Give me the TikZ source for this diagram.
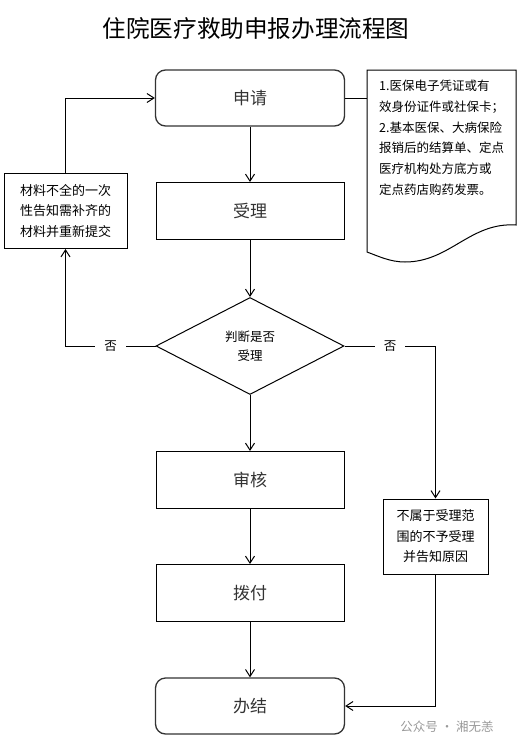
\documentclass[tikz,border=0pt]{standalone}
\usepackage{fontspec}
\setmainfont{Noto Sans CJK SC}
\usetikzlibrary{shapes.geometric, arrows.meta}
\tikzstyle{startstop} = [rectangle, rounded corners=10pt, minimum width=189pt, minimum height=56pt, text centered, draw=black!80, line width=1.3pt, text=black!80, font=\fontsize{17}{20}\selectfont]
\tikzstyle{process} = [rectangle, minimum width=188pt, minimum height=57pt, text centered, draw=black, line width=1pt, text=black!80, font=\fontsize{17}{20}\selectfont]
\tikzstyle{decision} = [diamond, aspect=1.94, minimum width=188pt, minimum height=97pt, inner sep=0pt, align=center, draw=black, line width=1pt, font=\fontsize{12.5}{19}\selectfont]
\tikzstyle{note} = [rectangle, minimum height=75pt, align=center, draw=black, line width=1pt, font=\fontsize{13}{20.5}\selectfont]
\tikzstyle{answer} = [fill=white, inner xsep=9pt, inner ysep=2pt, font=\fontsize{12.5}{15}\selectfont]
\tikzstyle{arrow} = [line width=1pt,-{Straight Barb[length=7pt,width=9pt]}]

\begin{document}
\begin{tikzpicture}[x=1pt, y=-1pt, node distance=113pt]
    \useasboundingbox (0,0) rectangle (519,747);
    \node (title) at (256,28) [font=\fontsize{23.6}{28}\selectfont] {住院医疗救助申报办理流程图};

    \node (apply) [startstop] at (250,98) {申请};
    \node (accept) [process, below of=apply] {受理};
    \node (judge) [decision, node distance=135pt, below of=accept] {判断是否\\受理};
    \node (review) [process, node distance=134pt, below of=judge] {审核};
    \node (pay) [process, below of=review] {拨付};
    \node (finish) [startstop, below of=pay] {办结};

    \node (supply) [note, minimum width=123pt, node distance=184.5pt, left of=accept] {材料不全的一次\\性告知需补齐的\\材料并重新提交};
    \node (reject) [note, minimum width=105pt] at (435.5,536.5) {不属于受理范\\围的不予受理\\并告知原因};

    % materials list
    \coordinate (doctop) at (367,70);
    \draw [line width=1pt] (doctop) -- (516,70) -- (516,225)
        .. controls (470,222) and (450,262) .. (405,262)
        .. controls (390,262) and (378,256) .. (367,252) -- cycle;
    \node (docs) [anchor=north west, inner sep=0pt, align=left, font=\fontsize{12.5}{20.7}\selectfont] at (379,80)
        {1.医保电子凭证或有\\效身份证件或社保卡；\\2.基本医保、大病保险\\报销后的结算单、定点\\医疗机构处方底方或\\定点药店购药发票。};

    \node (mark) at (447,727) [text=black!40, font=\fontsize{12.5}{15}\selectfont] {公众号 · 湘无恙};

    \draw [arrow] (apply) -- (accept);
    \draw [arrow] (accept) -- (judge);
    \draw [arrow] (judge) -- (review);
    \draw [arrow] (review) -- (pay);
    \draw [arrow] (pay) -- (finish);
    \draw [line width=1pt] (apply.east) -- (apply.east -| doctop);

    \draw [arrow] (judge.west) -- node[answer] {否} (judge.west -| supply.south) -- (supply.south);
    \draw [arrow] (supply.north) |- (apply.west);
    \draw [arrow] (judge.east) -- node[answer] {否} (judge.east -| reject.north) -- (reject.north);
    \draw [arrow] (reject.south) |- (finish.east);
  \end{tikzpicture}
\end{document}
